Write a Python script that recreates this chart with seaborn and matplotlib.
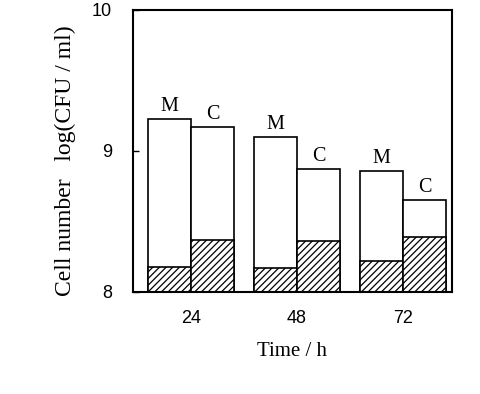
import matplotlib
matplotlib.use("Agg")
import matplotlib.pyplot as plt
import seaborn as sns
import pandas as pd

times = ["24", "48", "72"]
groups = ["M", "C"]
total_M = [9.23, 9.10, 8.86]
total_C = [9.17, 8.87, 8.65]
hatched_M = [8.18, 8.17, 8.22]
hatched_C = [8.37, 8.36, 8.39]

rows = []
for i, t in enumerate(times):
    rows.append(dict(time=t, group="M", total=total_M[i], base=hatched_M[i]))
    rows.append(dict(time=t, group="C", total=total_C[i], base=hatched_C[i]))
df = pd.DataFrame(rows)

sns.set_theme(style="white")
plt.rcParams["font.family"] = ["Liberation Serif", "DejaVu Serif"]
plt.rcParams["ytick.direction"] = "in"
plt.rcParams["hatch.linewidth"] = 0.9
plt.rcParams["text.color"] = "black"
plt.rcParams["axes.labelcolor"] = "black"
plt.rcParams["xtick.color"] = "black"
plt.rcParams["ytick.color"] = "black"

fig = plt.figure(figsize=(4.81, 3.94), dpi=100)
ax = fig.add_axes([0.2765, 0.259, 0.6632, 0.7157])

bar_w = 0.82
sns.barplot(data=df, x="time", y="total", hue="group", hue_order=groups,
            order=times, palette=["white", "white"], edgecolor="black",
            linewidth=1.2, width=bar_w, dodge=True, legend=False, ax=ax,
            errorbar=None)
n_tot = len(ax.patches)
sns.barplot(data=df, x="time", y="base", hue="group", hue_order=groups,
            order=times, palette=["white", "white"], edgecolor="black",
            linewidth=1.2, width=bar_w, dodge=True, legend=False, ax=ax,
            errorbar=None)
for p in ax.patches[n_tot:]:
    p.set_hatch("/////")

for i, t in enumerate(times):
    for j, g in enumerate(groups):
        val = total_M[i] if g == "M" else total_C[i]
        x = i + (j - 0.5) * bar_w / 2
        ax.text(x, val + 0.02, g, ha="center", va="bottom", fontsize=14.5,
                family=["Liberation Serif"], color="black")

ax.set_ylim(8, 10)
ax.set_xlim(-0.547, 2.462)
ax.set_yticks([8, 9, 10])
ax.set_yticklabels(["8", "9", "10"], family=["Liberation Sans"], fontsize=13)
ax.set_xticks([0, 1, 2])
ax.set_xticklabels(times, family=["Liberation Sans"], fontsize=13)
ax.tick_params(axis="y", direction="in", length=4, width=1, left=True, pad=15,
               colors="black")
ax.tick_params(axis="x", length=0, pad=13, colors="black")
ax.set_xlabel("Time / h", fontsize=15, labelpad=11, color="black")
ax.set_ylabel("Cell number   log(CFU / ml)", fontsize=17, color="black")
ax.yaxis.set_label_coords(-0.18, 0.465)
for s in ax.spines.values():
    s.set_visible(True)
    s.set_color("black")
    s.set_linewidth(1.5)

fig.savefig("out.png", dpi=100, facecolor="white")
